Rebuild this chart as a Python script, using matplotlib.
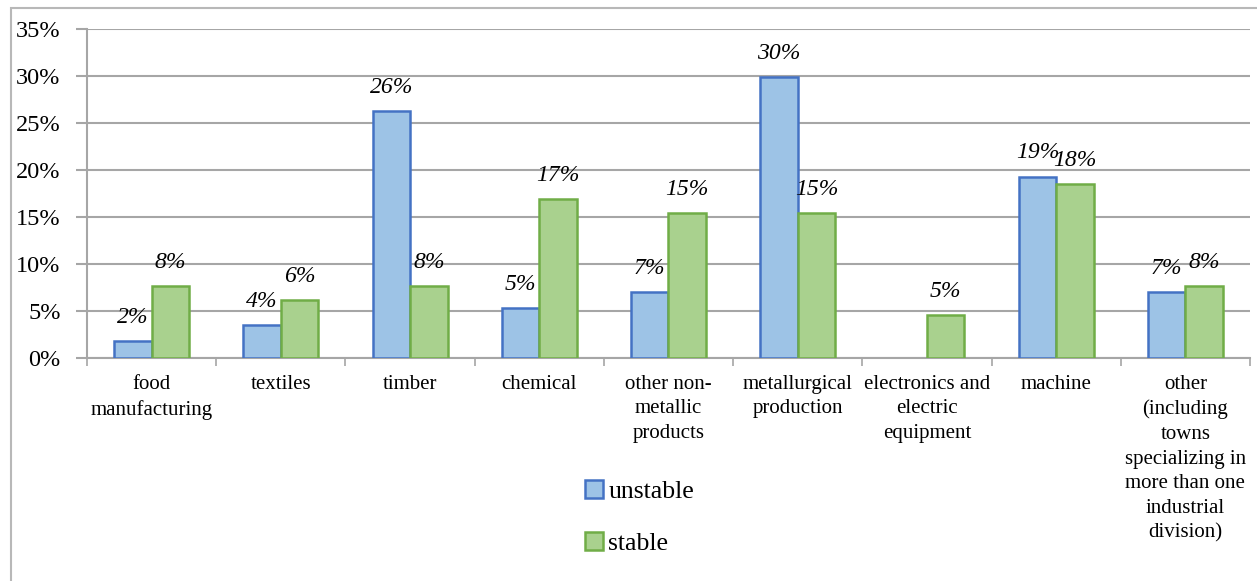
import numpy as np
import matplotlib
matplotlib.use("Agg")
import matplotlib.pyplot as plt
from matplotlib.patches import Rectangle
from matplotlib.ticker import PercentFormatter

categories = [
    "food\nmanufacturing",
    "textiles",
    "timber",
    "chemical",
    "other non-\nmetallic\nproducts",
    "metallurgical\nproduction",
    "electronics and\nelectric\nequipment",
    "machine",
    "other\n(including\ntowns\nspecializing in\nmore than one\nindustrial\ndivision)",
]
unstable = [1.8, 3.5, 26.3, 5.3, 7.0, 29.9, 0.0, 19.3, 7.0]
stable = [7.7, 6.2, 7.7, 16.9, 15.4, 15.4, 4.6, 18.5, 7.7]
series_names = ["unstable", "stable"]

plt.rcParams["font.family"] = ["Liberation Serif", "DejaVu Serif"]

fig = plt.figure(figsize=(12.57, 5.81), dpi=100)
ax = fig.add_axes([0.0692, 0.3838, 0.9252, 0.5663])

# outer chart frame, cut off at the right and bottom edges
fig.patches.append(Rectangle((11 / 1257, -0.05), 1.2, 1 - 8 / 581 + 0.05,
                             transform=fig.transFigure, fill=False,
                             edgecolor="#b8b8b8", linewidth=1.5, zorder=0))

x = np.arange(len(categories))
w = 0.29
b1 = ax.bar(x - w / 2, unstable, w, color="#9dc3e6", edgecolor="#4472c4",
            linewidth=1.8, label=series_names[0], zorder=3)
b2 = ax.bar(x + w / 2, stable, w, color="#a9d18e", edgecolor="#70ad47",
            linewidth=1.8, label=series_names[1], zorder=3)

for bars, vals in ((b1, unstable), (b2, stable)):
    for bar, v in zip(bars, vals):
        if v == 0:
            bar.set_visible(False)
            continue
        ax.annotate(f"{v:.0f}%", (bar.get_x() + bar.get_width() / 2, v),
                    xytext=(0, 17), textcoords="offset points",
                    ha="center", va="center", fontsize=17, style="italic")

ax.set_xlim(-0.5, len(categories) - 0.5)
ax.set_ylim(0, 35)
ax.set_yticks(np.arange(0, 36, 5))
ax.yaxis.set_major_formatter(PercentFormatter(decimals=0))
ax.grid(axis="y", color="#a6a6a6", linewidth=1.5, zorder=0)
ax.set_axisbelow(True)

ax.set_xticks(x)
ax.set_xticklabels(categories, fontsize=15, linespacing=1.4,
                   family=["Liberation Serif", "DejaVu Serif"])
ax.set_xticks(np.arange(-0.5, len(categories), 1), minor=True)
ax.tick_params(axis="x", which="major", length=0, pad=12)
ax.tick_params(axis="x", which="minor", length=6, color="#a6a6a6", width=1.2)
ax.tick_params(axis="y", length=8, color="#a6a6a6", width=1.5,
               labelsize=17.5, pad=11)

for side in ("top", "right"):
    ax.spines[side].set_visible(False)
for side in ("left", "bottom"):
    ax.spines[side].set_color("#a6a6a6")
    ax.spines[side].set_linewidth(1.5)

fig.legend(handles=[b1, b2], loc="upper left",
           bbox_to_anchor=(575 / 1257, 1 - 470 / 581), frameon=False,
           fontsize=18.5, handlelength=0.7, handleheight=0.7,
           handletextpad=0.2, labelspacing=1.1, borderaxespad=0)

fig.savefig("out.png", dpi=100)
